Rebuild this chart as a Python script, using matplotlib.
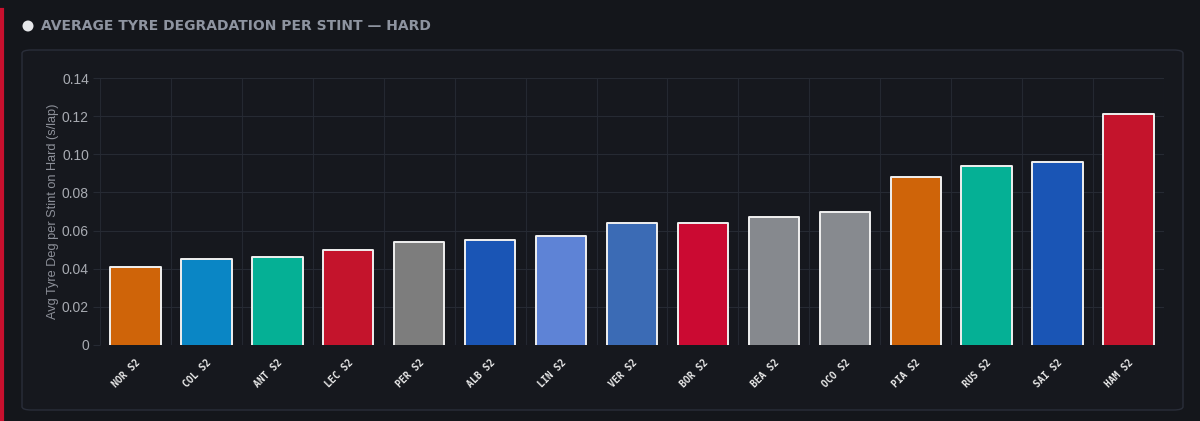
import matplotlib
matplotlib.use("Agg")
import matplotlib.pyplot as plt
from matplotlib.patches import FancyBboxPatch, Ellipse

drivers = ["NOR S2", "COL S2", "ANT S2", "LEC S2", "PER S2", "ALB S2", "LIN S2", "VER S2",
           "BOR S2", "BEA S2", "OCO S2", "PIA S2", "RUS S2", "SAI S2", "HAM S2"]
deg = [0.041, 0.045, 0.046, 0.050, 0.054, 0.055, 0.057, 0.064,
       0.064, 0.067, 0.070, 0.088, 0.094, 0.096, 0.121]
colors = ["#cf6409", "#0a86c5", "#05b095", "#c4142c", "#7d7d7d", "#1a55b5", "#5e83d6", "#3b6bb5",
          "#cb0a32", "#86898e", "#878a8f", "#cf6409", "#05b095", "#1a55b5", "#c4142c"]
yticks = [0, 0.02, 0.04, 0.06, 0.08, 0.10, 0.12, 0.14]
ytick_labels = ["0", "0.02", "0.04", "0.06", "0.08", "0.10", "0.12", "0.14"]

W, H = 1200, 421
fig = plt.figure(figsize=(W / 100, H / 100), dpi=100)
bg = "#14161b"
fig.patch.set_facecolor(bg)

# red left accent
fig.add_artist(plt.Line2D([1.5 / W, 1.5 / W], [0, 1 - 10 / H], color="#c8102e", lw=3,
                          transform=fig.transFigure, zorder=-2))
# card
card = FancyBboxPatch((22 / W, 11 / H), (1183 - 22) / W, (410 - 50) / H,
                      boxstyle="round,pad=0,rounding_size=0.008", transform=fig.transFigure,
                      facecolor="#16181e", edgecolor="#2a2e3a", lw=1, zorder=-1)
fig.add_artist(card)

# title
fig.add_artist(Ellipse((28 / W, 1 - 26 / H), 11 / W, 11 / H, transform=fig.transFigure,
                       facecolor="#e6e7ea", edgecolor="none"))
fig.text(41 / W, 1 - 26.5 / H, "AVERAGE TYRE DEGRADATION PER STINT — HARD",
         color="#8e94a0", fontsize=10, fontweight="bold", va="center", ha="left",
         family="DejaVu Sans")

ax = fig.add_axes([100 / W, 1 - 345 / H, (1164 - 100) / W, (345 - 78) / H])
ax.set_facecolor("none")
x = list(range(len(drivers)))
bars = ax.bar(x, deg, width=0.71, color=colors, linewidth=0, zorder=3)
for b in bars:
    x0, w, h = b.get_x(), b.get_width(), b.get_height()
    ax.plot([x0, x0, x0 + w, x0 + w], [0, h, h, 0], color="#f0f0f0", lw=1.4,
            solid_joinstyle="round", zorder=4)
ax.set_xlim(-0.5, len(drivers) - 0.5)
ax.set_ylim(0, 0.14)
ax.set_yticks(yticks)
ax.set_yticklabels(ytick_labels, family="Liberation Sans")
ax.set_xticks(x)
ax.set_xticklabels(drivers, rotation=45, ha="right", rotation_mode="anchor",
                   family="DejaVu Sans Mono", fontweight="bold", fontsize=7, color="#e8e8e8")
ax.set_xticks([i - 0.5 for i in range(len(drivers) + 1)], minor=True)
ax.grid(True, which="minor", axis="x", color="#242831", lw=0.8, zorder=0)
ax.grid(True, which="major", axis="y", color="#262a33", lw=0.8, zorder=0)
ax.tick_params(axis="x", which="both", length=0, pad=9)
ax.tick_params(axis="y", length=5, color="#262a33", colors="#a8abb2", labelsize=10, pad=3)
for s in ax.spines.values():
    s.set_visible(False)
ax.set_ylabel("Avg Tyre Deg per Stint on Hard (s/lap)", color="#8d9099", fontsize=9.2,
              family="Liberation Sans", labelpad=2)

fig.savefig("out.png", dpi=100, facecolor=bg)
